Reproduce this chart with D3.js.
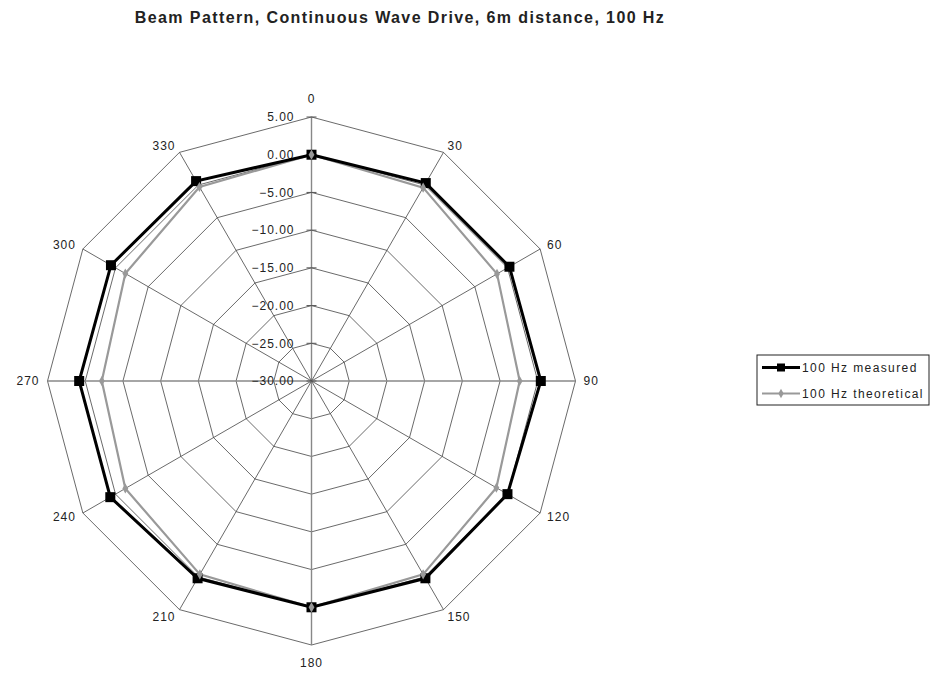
<!DOCTYPE html>
<html>
<head>
<meta charset="utf-8">
<script src="https://cdn.jsdelivr.net/npm/d3@7"></script>
<style>
  body { margin: 0; background: #fff; }
  text { font-family: "Liberation Sans", Arial, sans-serif; fill: #222; }
</style>
</head>
<body>
<div id="chart"></div>
<script>
// angle categories (degrees)
const angles = [0, 30, 60, 90, 120, 150, 180, 210, 240, 270, 300, 330];
// series values (dB)
const measured = [0.0, 0.3, 0.3, 0.4, 0.0, 0.2, 0.0, 0.2, 0.8, 0.8, 0.7, 0.6];
const theoretical = [0.0, -0.4, -1.6, -2.4, -1.7, -0.4, 0.0, -0.4, -1.5, -2.2, -1.5, -0.3];
// radial ticks
const ticks = [-30, -25, -20, -15, -10, -5, 0, 5];
const seriesNames = ['100 Hz measured', '100 Hz theoretical'];

const width = 930, height = 677;
const cx = 311.5, cy = 381;
const outer = 264;

const svg = d3.select('#chart')
  .append('svg')
  .attr('width', width)
  .attr('height', height);

// title
svg.append('text')
  .attr('x', 400)
  .attr('y', 23)
  .attr('text-anchor', 'middle')
  .style('font-size', '16px')
  .style('letter-spacing', '1.4px')
  .style('font-weight', 'bold')
  .text('Beam Pattern, Continuous Wave Drive, 6m distance, 100 Hz');

const r = d3.scaleLinear().domain([-30, 5]).range([0, outer]);
const a = d3.scalePoint().domain(angles).range([0, 330]);
const rad = d => (a(d) - 90) * Math.PI / 180;

const g = svg.append('g').attr('transform', `translate(${cx},${cy})`);

// ring polygons
const ring = d3.line().curve(d3.curveLinearClosed)
  .x(d => d.r * Math.cos(rad(d.a)))
  .y(d => d.r * Math.sin(rad(d.a)));

ticks.slice(1).forEach(t => {
  g.append('path')
    .attr('d', ring(angles.map(an => ({ a: an, r: r(t) }))))
    .attr('fill', 'none')
    .attr('stroke', '#444')
    .attr('stroke-width', 0.8);
});

// spokes
g.selectAll('.spoke')
  .data(angles)
  .enter()
  .append('line')
  .attr('class', 'spoke')
  .attr('x1', 0).attr('y1', 0)
  .attr('x2', d => outer * Math.cos(rad(d)))
  .attr('y2', d => outer * Math.sin(rad(d)))
  .attr('stroke', d => d % 90 === 0 ? '#888' : '#444')
  .attr('stroke-width', d => d % 90 === 0 ? 1.4 : 0.8);

// value axis ticks + labels on the 0 spoke
ticks.forEach(t => {
  g.append('line')
    .attr('x1', -5).attr('x2', 5)
    .attr('y1', -r(t)).attr('y2', -r(t))
    .attr('stroke', '#555');
  g.append('text')
    .attr('x', -17)
    .attr('y', -r(t))
    .attr('dy', '0.35em')
    .attr('text-anchor', 'end')
    .style('font-size', '12px')
    .style('letter-spacing', '1px')
    .text(d3.format('.2f')(t));
});

// category labels
const labR = d => (d % 180 === 0 ? outer + 18 : outer + 8);
g.selectAll('.cat')
  .data(angles)
  .enter()
  .append('text')
  .attr('class', 'cat')
  .attr('x', d => labR(d) * Math.cos(rad(d)))
  .attr('y', d => labR(d) * Math.sin(rad(d)))
  .attr('dy', '0.35em')
  .attr('text-anchor', d => d % 180 === 0 ? 'middle' : (d < 180 ? 'start' : 'end'))
  .style('font-size', '12px')
  .style('letter-spacing', '1px')
  .text(d => d);

const pt = (vals) => angles.map((an, i) => [r(vals[i]) * Math.cos(rad(an)), r(vals[i]) * Math.sin(rad(an))]);
const poly = d3.line().curve(d3.curveLinearClosed);

// theoretical series (grey)
g.append('path')
  .attr('d', poly(pt(theoretical)))
  .attr('fill', 'none')
  .attr('stroke', '#999')
  .attr('stroke-width', 2.2);

// measured series (black)
g.append('path')
  .attr('d', poly(pt(measured)))
  .attr('fill', 'none')
  .attr('stroke', '#000')
  .attr('stroke-width', 3);

g.selectAll('.mm')
  .data(pt(measured))
  .enter()
  .append('rect')
  .attr('x', d => d[0] - 5)
  .attr('y', d => d[1] - 5)
  .attr('width', 10).attr('height', 10)
  .attr('fill', '#000');

g.selectAll('.tm')
  .data(pt(theoretical))
  .enter()
  .append('path')
  .attr('d', d3.symbol().type(d3.symbolDiamond).size(30))
  .attr('transform', d => `translate(${d[0]},${d[1]})`)
  .attr('fill', '#999');

// legend
const lg = svg.append('g').attr('transform', 'translate(757,355)');
lg.append('rect')
  .attr('width', 172).attr('height', 50)
  .attr('fill', '#fff')
  .attr('stroke', '#222')
  .attr('stroke-width', 1);

seriesNames.forEach((name, i) => {
  const y = 12.5 + i * 26;
  lg.append('line')
    .attr('x1', 5).attr('x2', 43)
    .attr('y1', y).attr('y2', y)
    .attr('stroke', i === 0 ? '#000' : '#999')
    .attr('stroke-width', i === 0 ? 3 : 2);
  if (i === 0) {
    lg.append('rect')
      .attr('x', 20).attr('y', y - 4)
      .attr('width', 8).attr('height', 8)
      .attr('fill', '#000');
  } else {
    lg.append('path')
      .attr('d', d3.symbol().type(d3.symbolDiamond).size(25))
      .attr('transform', `translate(24,${y})`)
      .attr('fill', '#999');
  }
  lg.append('text')
    .attr('x', 45)
    .attr('y', y)
    .attr('dy', '0.35em')
    .style('font-size', '12px')
    .style('letter-spacing', '1.4px')
    .text(name);
});
</script>
</body>
</html>
